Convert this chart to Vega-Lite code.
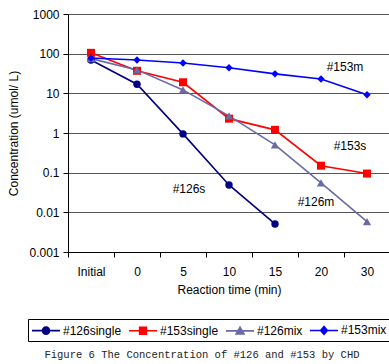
{
  "$schema": "https://vega.github.io/schema/vega-lite/v6.json",
  "width": 322,
  "height": 238,
  "autosize": "none",
  "padding": {"left": 68, "top": 14, "right": 0, "bottom": 112},
  "background": "white",
  "config": {
    "font": "Liberation Sans",
    "view": {"stroke": null},
    "axis": {
      "labelFont": "Liberation Sans",
      "labelFontSize": 12,
      "labelColor": "#000",
      "titleFont": "Liberation Sans",
      "titleFontSize": 12,
      "titleFontWeight": "normal",
      "titleColor": "#000",
      "domainColor": "#000",
      "tickColor": "#000",
      "tickSize": 5
    }
  },
  "title": {
    "text": "Figure 6 The Concentration of #126 and #153 by CHD",
    "orient": "bottom",
    "anchor": "middle",
    "font": "Liberation Mono",
    "fontSize": 10.5,
    "fontWeight": "normal",
    "color": "#222",
    "offset": 8,
    "dx": -27
  },
  "datasets": {
    "series": [
      {"series": "#126single", "time": "Initial", "value": 69},
      {"series": "#126single", "time": "0", "value": 17},
      {"series": "#126single", "time": "5", "value": 0.95},
      {"series": "#126single", "time": "10", "value": 0.049},
      {"series": "#126single", "time": "15", "value": 0.0051},
      {"series": "#153single", "time": "Initial", "value": 105},
      {"series": "#153single", "time": "0", "value": 37},
      {"series": "#153single", "time": "5", "value": 19},
      {"series": "#153single", "time": "10", "value": 2.3},
      {"series": "#153single", "time": "15", "value": 1.2},
      {"series": "#153single", "time": "20", "value": 0.15},
      {"series": "#153single", "time": "30", "value": 0.095},
      {"series": "#126mix", "time": "Initial", "value": 75},
      {"series": "#126mix", "time": "0", "value": 39},
      {"series": "#126mix", "time": "5", "value": 12.2},
      {"series": "#126mix", "time": "10", "value": 2.7},
      {"series": "#126mix", "time": "15", "value": 0.5},
      {"series": "#126mix", "time": "20", "value": 0.055},
      {"series": "#126mix", "time": "30", "value": 0.0058},
      {"series": "#153mix", "time": "Initial", "value": 78},
      {"series": "#153mix", "time": "0", "value": 69},
      {"series": "#153mix", "time": "5", "value": 58},
      {"series": "#153mix", "time": "10", "value": 44},
      {"series": "#153mix", "time": "15", "value": 31},
      {"series": "#153mix", "time": "20", "value": 23},
      {"series": "#153mix", "time": "30", "value": 9.2}
    ]
  },
  "layer": [
    {
      "data": {"name": "series"},
      "mark": {"type": "line", "strokeWidth": 1.6},
      "encoding": {
        "x": {
          "field": "time",
          "type": "ordinal",
          "scale": {"domain": ["Initial", "0", "5", "10", "15", "20", "30"]},
          "axis": {
            "title": "Reaction time (min)",
            "labelAngle": 0,
            "grid": false,
            "tickOffset": -23,
            "labelOffset": 23,
            "labelPadding": 9,
            "titlePadding": 7
          }
        },
        "y": {
          "field": "value",
          "type": "quantitative",
          "scale": {"type": "log", "domain": [0.001, 1000], "nice": false},
          "axis": {
            "title": "Concentration (umol/ L)",
            "values": [0.001, 0.01, 0.1, 1, 10, 100, 1000],
            "format": "~g",
            "grid": true,
            "gridColor": "#555",
            "gridOpacity": 1,
            "labelPadding": 4,
            "titlePadding": 8
          }
        },
        "color": {
          "field": "series",
          "type": "nominal",
          "scale": {
            "domain": ["#126single", "#153single", "#126mix", "#153mix"],
            "range": ["#000080", "#ff0000", "#6a6aa6", "#0000ff"]
          },
          "legend": {
            "title": null,
            "orient": "none",
            "legendX": -40,
            "legendY": 305,
            "direction": "horizontal",
            "columns": 4,
            "strokeColor": "#000",
            "padding": 3,
            "columnPadding": 3,
            "symbolOffset": 7,
            "labelOffset": 9,
            "labelFont": "Liberation Sans",
            "labelFontSize": 12,
            "labelColor": "#000",
            "symbolSize": 196,
            "symbolStrokeWidth": 1.6,
            "encode": {
              "symbols": {
                "update": {
                  "shape": {"signal": "datum.value === '#126single' ? 'M-2,0H2M-0.5,0A0.5,0.5,0,1,1,0.5,0A0.5,0.5,0,1,1,-0.5,0Z' : datum.value === '#153single' ? 'M-2,0H2M-0.48,-0.48H0.48V0.48H-0.48Z' : datum.value === '#126mix' ? 'M-2,0H2M0,-0.52L0.56,0.44H-0.56Z' : 'M-2,0H2M0,-0.56L0.48,0L0,0.56L-0.48,0Z'"},
                  "size": {"value": 196},
                  "fill": {"scale": "color", "field": "value"},
                  "stroke": {"scale": "color", "field": "value"},
                  "strokeWidth": {"value": 1.6},
                  "opacity": {"value": 1},
                  "fillOpacity": {"value": 1}
                }
              }
            }
          }
        }
      }
    },
    {
      "data": {"name": "series"},
      "transform": [{"filter": "datum.series === '#126single'"}],
      "mark": {"type": "point", "filled": true, "opacity": 1, "shape": "circle", "size": 55},
      "encoding": {
        "x": {"field": "time", "type": "ordinal"},
        "y": {"field": "value", "type": "quantitative"},
        "color": {"field": "series", "type": "nominal"}
      }
    },
    {
      "data": {"name": "series"},
      "transform": [{"filter": "datum.series === '#153single'"}],
      "mark": {"type": "point", "filled": true, "opacity": 1, "shape": "square", "size": 64},
      "encoding": {
        "x": {"field": "time", "type": "ordinal"},
        "y": {"field": "value", "type": "quantitative"},
        "color": {"field": "series", "type": "nominal"}
      }
    },
    {
      "data": {"name": "series"},
      "transform": [{"filter": "datum.series === '#126mix'"}],
      "mark": {"type": "point", "filled": true, "opacity": 1, "shape": "triangle-up", "size": 70},
      "encoding": {
        "x": {"field": "time", "type": "ordinal"},
        "y": {"field": "value", "type": "quantitative"},
        "color": {"field": "series", "type": "nominal"}
      }
    },
    {
      "data": {"name": "series"},
      "transform": [{"filter": "datum.series === '#153mix'"}],
      "mark": {"type": "point", "filled": true, "opacity": 1, "shape": "diamond", "size": 55},
      "encoding": {
        "x": {"field": "time", "type": "ordinal"},
        "y": {"field": "value", "type": "quantitative"},
        "color": {"field": "series", "type": "nominal"}
      }
    },
    {
      "data": {"values": [{"label": "#153m", "time": "20", "value": 46}]},
      "mark": {"type": "text", "dx": 24, "fontSize": 12, "font": "Liberation Sans", "color": "#000"},
      "encoding": {
        "x": {"field": "time", "type": "ordinal"},
        "y": {"field": "value", "type": "quantitative"},
        "text": {"field": "label"}
      }
    },
    {
      "data": {"values": [{"label": "#153s", "time": "20", "value": 0.48}]},
      "mark": {"type": "text", "dx": 29, "fontSize": 12, "font": "Liberation Sans", "color": "#000"},
      "encoding": {
        "x": {"field": "time", "type": "ordinal"},
        "y": {"field": "value", "type": "quantitative"},
        "text": {"field": "label"}
      }
    },
    {
      "data": {"values": [{"label": "#126s", "time": "5", "value": 0.039}]},
      "mark": {"type": "text", "dx": 6, "fontSize": 12, "font": "Liberation Sans", "color": "#000"},
      "encoding": {
        "x": {"field": "time", "type": "ordinal"},
        "y": {"field": "value", "type": "quantitative"},
        "text": {"field": "label"}
      }
    },
    {
      "data": {"values": [{"label": "#126m", "time": "20", "value": 0.018}]},
      "mark": {"type": "text", "dx": -5, "fontSize": 12, "font": "Liberation Sans", "color": "#000"},
      "encoding": {
        "x": {"field": "time", "type": "ordinal"},
        "y": {"field": "value", "type": "quantitative"},
        "text": {"field": "label"}
      }
    }
  ]
}
